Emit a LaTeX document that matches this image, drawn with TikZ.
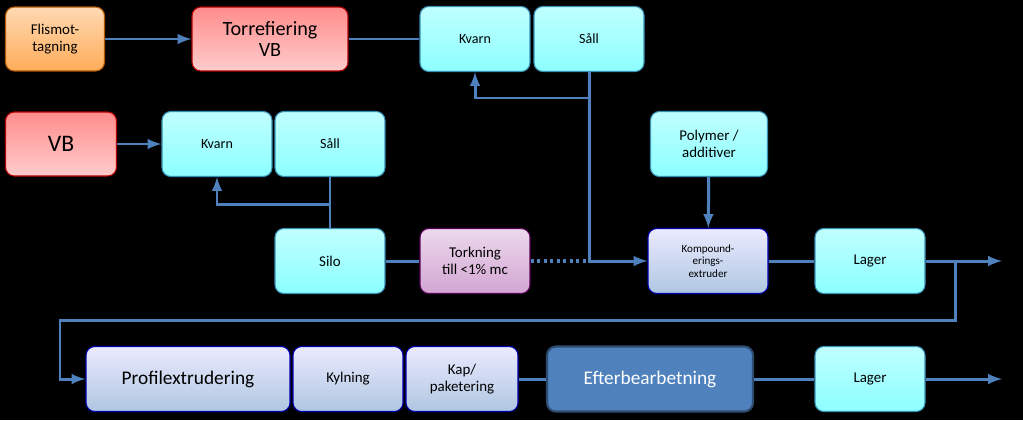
\documentclass[tikz,border=0pt]{standalone}
\usepackage{fontspec}
\setmainfont{Carlito}
\usetikzlibrary{positioning}
\usetikzlibrary{calc}
\definecolor{flow}{HTML}{4F81BD}
\tikzset{
  box/.style={draw=#1!70!black, line width=0.6pt, rounded corners=5pt, align=center, inner sep=1pt},
  cyanbox/.style={box=cyan, top color=cyan!25, bottom color=cyan!45!white, minimum width=2.2cm, minimum height=1.3cm},
  link/.style={draw=flow, line width=1.7pt},
  arr/.style={link, -latex}
}
\begin{document}
\begin{tikzpicture}[x=0.02cm, y=-0.02cm]
  \fill[black] (0,0) rectangle (1023,420);
  \useasboundingbox (0,0) rectangle (1023,420);
  % upper row
  \node[box=orange, top color=orange!30, bottom color=orange!65, minimum width=1.98cm, minimum height=1.28cm, font=\fontsize{8.5}{9.5}\selectfont] (flis) at (55,39) {Flismot-\\tagning};
  \node[box=red, top color=red!45, bottom color=red!20, minimum width=3.12cm, minimum height=1.28cm, font=\fontsize{11.5}{12.5}\selectfont] (torr) at (270,39) {Torrefiering\\VB};
  \node[cyanbox, font=\fontsize{8}{9}\selectfont] (kvarnA) at (475,39) {Kvarn};
  \node[cyanbox, font=\fontsize{8}{9}\selectfont] (sallA) at (589,39) {Såll};
  % second row
  \node[box=red, top color=red!45, bottom color=red!20, minimum width=2.22cm, minimum height=1.28cm, font=\fontsize{13.5}{14}\selectfont] (vb) at (61,144) {VB};
  \node[cyanbox, font=\fontsize{8}{9}\selectfont] (kvarnB) at (217,144) {Kvarn};
  \node[cyanbox, font=\fontsize{8}{9}\selectfont] (sallB) at (330,144) {Såll};
  \node[cyanbox, minimum width=2.34cm, font=\fontsize{8.5}{10}\selectfont] (poly) at (709,144) {Polymer /\\additiver};
  % third row
  \node[cyanbox, font=\fontsize{8.5}{9.5}\selectfont] (silo) at (330,261) {Silo};
  \node[box=violet, top color=violet!15, bottom color=violet!35, minimum width=2.2cm, minimum height=1.3cm, font=\fontsize{8.5}{10}\selectfont] (tork) at (475,261) {Torkning\\till <1\% mc};
  \node[box=blue, top color=blue!8, bottom color=flow!45, minimum width=2.4cm, minimum height=1.3cm, font=\fontsize{6.3}{7}\selectfont] (komp) at (708,261) {Kompound-\\erings-\\extruder};
  \node[cyanbox, font=\fontsize{8.5}{9.5}\selectfont] (lagerA) at (870,261) {Lager};
  % bottom row
  \node[box=blue, top color=blue!8, bottom color=flow!45, minimum width=4.08cm, minimum height=1.3cm, font=\fontsize{11}{12}\selectfont] (prof) at (188,379) {Profilextrudering};
  \node[box=blue, top color=blue!8, bottom color=flow!45, minimum width=2.2cm, minimum height=1.3cm, font=\fontsize{8.5}{9.5}\selectfont] (kyl) at (348,379) {Kylning};
  \node[box=blue, top color=blue!8, bottom color=flow!45, minimum width=2.24cm, minimum height=1.3cm, font=\fontsize{8.5}{10}\selectfont] (kap) at (462,379) {Kap/\\paketering};
  \node[box=flow, fill=flow, draw=flow!60!black, line width=1.2pt, text=white, minimum width=4.12cm, minimum height=1.3cm, font=\fontsize{11}{12}\selectfont] (efter) at (650,379) {Efterbearbetning};
  \node[cyanbox, font=\fontsize{8.5}{9.5}\selectfont] (lagerB) at (870,379) {Lager};
  \coordinate (endA) at (1002,261);
  \coordinate (endB) at (1002,379);
  % connectors
  \draw[arr] (flis) -- (torr);
  \draw[link] (torr) -- (kvarnA);
  \draw[arr] (sallA.south) |- (589,98) -| (kvarnA.south);
  \draw[arr] (sallA.south) |- (komp.west);
  \draw[link, dotted, line width=2.5pt] (tork) -- (589,261);
  \draw[link] (silo) -- (tork);
  \draw[arr] (vb) -- (kvarnB);
  \draw[link] (sallB) -- (silo);
  \draw[arr] (330,204) -| (kvarnB.south);
  \draw[arr] (poly) -- (komp);
  \draw[link] (komp) -- (lagerA);
  \draw[arr] (lagerA) -- (endA);
  \draw[arr] (955,261) |- (60,320) |- (prof.west);
  \draw[link] (kap) -- (efter);
  \draw[link] (efter) -- (lagerB);
  \draw[arr] (lagerB) -- (endB);
\end{tikzpicture}
\end{document}
